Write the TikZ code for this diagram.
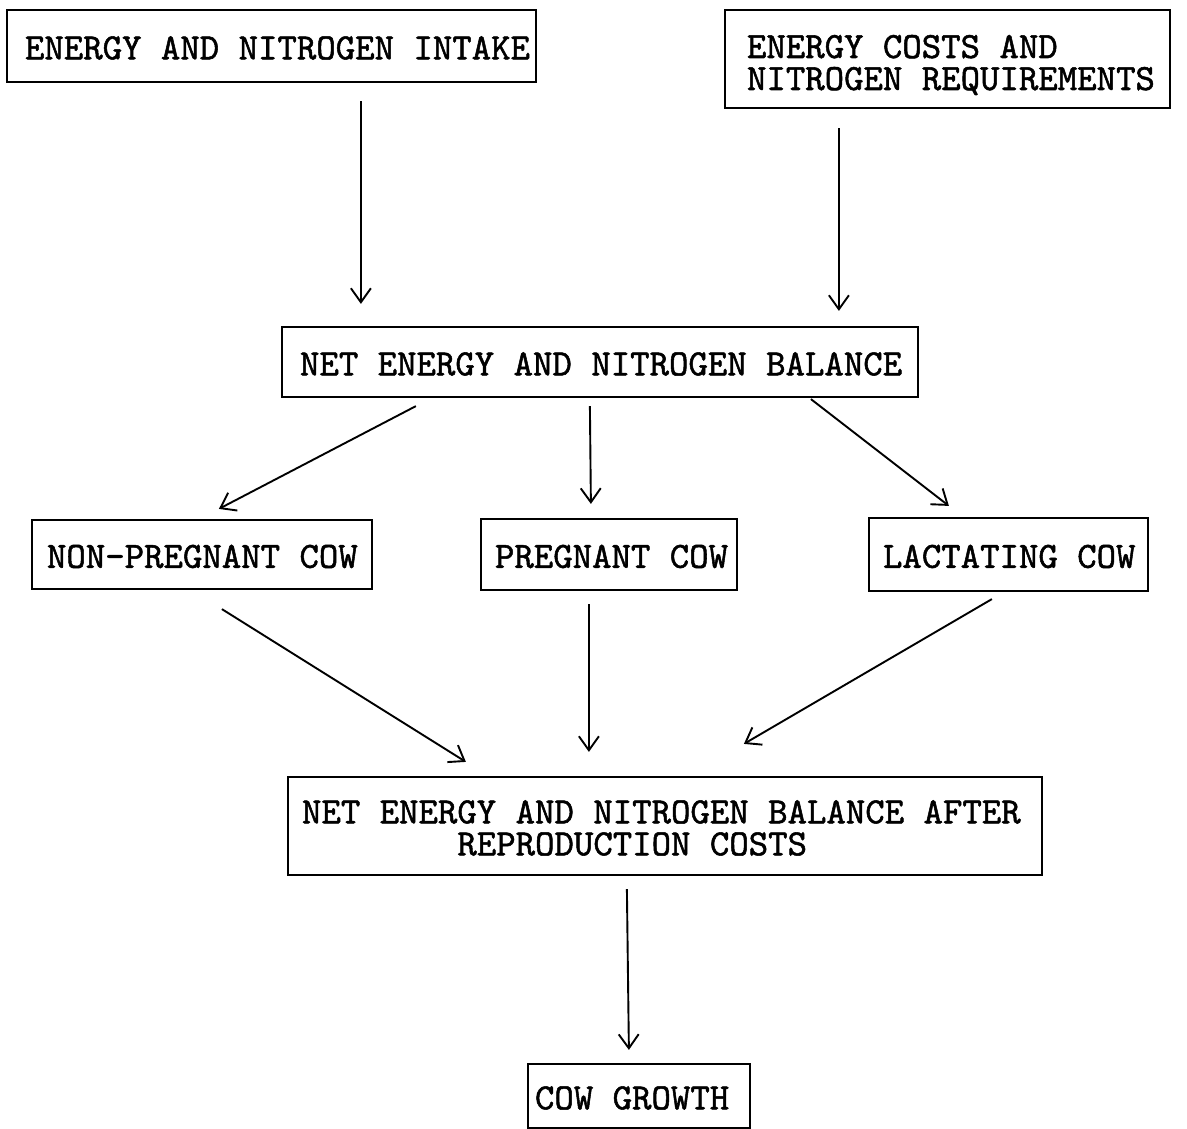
\documentclass[tikz,border=0pt]{standalone}
\usepackage{fontspec}
\newfontfamily\typew{lmmono10-regular.otf}[FakeBold=1.4]
\usetikzlibrary{arrows.meta}
\newcommand\boxtextstart{\spaceskip=0.525em\relax\hbadness=10000\hfuzz=100pt\rule{0pt}{27pt}}
\begin{document}
\begin{tikzpicture}[x=1pt,y=-1pt,
  box/.style={draw, line width=2.2pt, inner sep=0pt, align=left,
    font=\typew\fontsize{37}{32}\selectfont,
    execute at begin node=\boxtextstart},
  arr/.style={line width=1.9pt, -{Straight Barb[length=14pt,width=20pt,line width=1.9pt]}}]
\useasboundingbox (0,0) rectangle (1187,1129);
\node[box, minimum width=529pt, minimum height=72pt, text width=493pt] (b1) at (271.5,46) {\mbox{ENERGY AND NITROGEN INTAKE}};
\node[box, minimum width=445pt, minimum height=98pt, text width=401pt, text depth=29pt] (b2) at (947.5,59) {\mbox{ENERGY COSTS AND}\\\mbox{NITROGEN REQUIREMENTS}};
\node[box, minimum width=636pt, minimum height=70pt, text width=600pt] (b3) at (600,362) {\mbox{NET ENERGY AND NITROGEN BALANCE}};
\node[box, minimum width=340pt, minimum height=69pt, text width=310pt] (b4) at (202,554.5) {\mbox{NON-PREGNANT COW}};
\node[box, minimum width=256pt, minimum height=71pt, text width=228pt] (b5) at (609,554.5) {\mbox{PREGNANT COW}};
\node[box, minimum width=279pt, minimum height=73pt, text width=251pt] (b6) at (1008.5,554.5) {\mbox{LACTATING COW}};
\node[box, minimum width=754pt, minimum height=98pt, text width=726pt] (b7) at (665,826) {\mbox{NET ENERGY AND NITROGEN BALANCE AFTER}\\\mbox{\phantom{XXXXXXXX}REPRODUCTION COSTS}};
\node[box, minimum width=222pt, minimum height=64pt, text width=208pt] (b8) at (639,1096) {\mbox{COW GROWTH}};
\draw[arr] ([shift={(355,18)}]b1.south west) -- ([shift={(80,-22)}]b3.north west);
\draw[arr] ([shift={(115,19)}]b2.south west) -- ([shift={(558,-15)}]b3.north west);
\draw[arr] ([shift={(135,8)}]b3.south west) -- ([shift={(188,-10)}]b4.north west);
\draw[arr] ([shift={(309,8)}]b3.south west) -- ([shift={(111,-14)}]b5.north west);
\draw[arr] ([shift={(530,1)}]b3.south west) -- ([shift={(81,-11)}]b6.north west);
\draw[arr] ([shift={(191,19)}]b4.south west) -- ([shift={(179,-14)}]b7.north west);
\draw[arr] ([shift={(109,13)}]b5.south west) -- ([shift={(302,-24)}]b7.north west);
\draw[arr] ([shift={(124,7)}]b6.south west) -- ([shift={(457,-32)}]b7.north west);
\draw[arr] ([shift={(340,13)}]b7.south west) -- ([shift={(102,-13)}]b8.north west);
\end{tikzpicture}
\end{document}
